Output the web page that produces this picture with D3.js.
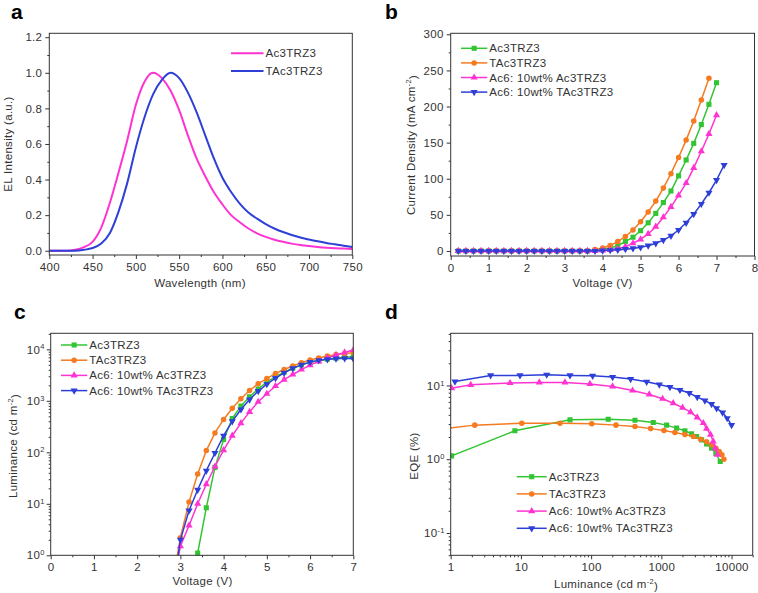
<!DOCTYPE html>
<html>
<head>
<meta charset="utf-8">
<script src="https://cdn.jsdelivr.net/npm/d3@7"></script>
<style>
body { margin: 0; background: #fff; }
svg text { font-family: "Liberation Sans", Arial, sans-serif; fill: #333; letter-spacing: 0.3px; }
</style>
</head>
<body>
<div id="chart"></div>
<script>
// ---- data ----
const seriesNames = ["Ac3TRZ3", "TAc3TRZ3", "Ac6: 10wt% Ac3TRZ3", "Ac6: 10wt% TAc3TRZ3"];

// a: EL spectra
const wavelength = [400,410,420,430,440,450,460,470,480,490,500,510,520,530,540,550,560,570,580,590,
                    600,610,620,630,640,650,660,670,680,690,700,710,720,730,740,750];
const elAc3 = [0,0,0,0.005,0.02,0.05,0.13,0.27,0.44,0.62,0.82,0.95,1.0,0.97,0.9,0.79,0.65,0.52,0.42,0.33,
               0.26,0.2,0.16,0.125,0.098,0.078,0.062,0.05,0.04,0.032,0.026,0.021,0.017,0.014,0.012,0.01];
const elTAc3 = [0,0,0,0,0.005,0.015,0.04,0.1,0.22,0.38,0.58,0.75,0.88,0.96,1.0,0.97,0.89,0.78,0.65,0.52,
                0.41,0.33,0.265,0.215,0.18,0.15,0.125,0.105,0.088,0.074,0.063,0.053,0.044,0.036,0.028,0.021];

// b: J-V
const voltB = [0.2,0.4,0.6,0.8,1.0,1.2,1.4,1.6,1.8,2.0,2.2,2.4,2.6,2.8,3.0,3.2,3.4,3.6,3.8,4.0,
               4.2,4.4,4.6,4.8,5.0,5.2,5.4,5.6,5.8,6.0,6.2,6.4,6.6,6.8,7.0,7.2];
const jAc3 = [0,0,0,0,0,0,0,0,0,0,0,0,0,0,0,0,0,0,1,2,4,7.5,13,19,28,39,52,67,83,104,126,149,175,203,233];
const jTAc3 = [0,0,0,0,0,0,0,0,0,0,0,0,0,0,0,0,0,0,2,4,7.5,13,20,29,40.5,54,69,87,107,129.5,153.5,180,209,239];
const jAc6Ac3 = [0,0,0,0,0,0,0,0,0,0,0,0,0,0,0,0,0,0,0,0.7,1.5,3,6,10.6,16,23.5,33.6,46.6,61,77,94,115,138,162,188];
const jAc6TAc3 = [0,0,0,0,0,0,0,0,0,0,0,0,0,0,0,0,0,0,0,0.5,1,1.5,2.5,3.5,5,7.3,10.6,15,21,29,39,51,65,80.6,98,119];

// c: L-V
const voltC = [2.8,3.0,3.2,3.4,3.6,3.8,4.0,4.2,4.4,4.6,4.8,5.0,5.2,5.4,5.6,5.8,6.0,6.2,6.4,6.6,6.8,7.0];
const lumAc3 = [null,null,0.17,1.1,8.4,51,177,455,790,1200,1700,2300,2950,3600,4300,5000,5600,6000,6450,6750,7000,7200];
const lumTAc3 = [0.23,2.2,10.8,38,108,238,435,720,1100,1590,2150,2700,3400,4050,4750,5500,6200,6800,7400,7900,8300,8600];
const lumAc6Ac3 = [0.2,1.5,3.8,10,24,53,110,210,370,610,960,1370,1940,2570,3250,4050,4930,5840,6800,7760,8700,9700];
const lumAc6TAc3 = [0.13,2.0,7.4,18.7,44,97,210,400,680,1060,1550,2100,2760,3500,4270,5000,5650,6150,6400,6600,6700,6600];

// d: EQE-L
const eqeLumAc3 = [1.03,8.2,50,175,421,767,1189,1650,2167,2697,3178,3742,4406,5190,5980,6900];
const eqeAc3 = [1.11,2.43,3.42,3.49,3.38,3.15,2.9,2.64,2.43,2.21,2.03,1.83,1.61,1.41,1.2,0.93];
const eqeLumTAc3 = [0.5,2.2,10.3,36,102,226,421,703,1089,1560,2167,2847,3622,4406,5190,5980,6670,7280,7780];
const eqeTAc3 = [2.45,2.9,3.08,3.08,3.02,2.9,2.78,2.6,2.45,2.3,2.16,2.03,1.87,1.72,1.57,1.41,1.27,1.15,1.0];
const eqeLumAc6Ac3 = [1.03,1.93,7.0,18.3,42.4,96,202,389,673,1042,1476,2005,2606,3245,3954,4406,5024,5483,5848,6300];
const eqeAc6Ac3 = [9.2,10.2,10.8,11.0,11.0,10.5,9.7,8.55,7.55,6.6,5.75,5.0,4.35,3.7,3.1,2.6,2.15,1.74,1.41,1.15];
const eqeLumAc6TAc3 = [1.15,3.7,9.7,23.3,50,105,202,365,617,935,1325,1840,2500,3245,4170,5190,6120,7450,8670,10000];
const eqeAc6TAc3 = [11.3,13.7,13.7,14.0,13.7,13.5,13.0,12.2,11.2,10.3,9.5,8.7,7.9,6.95,6.25,5.6,4.9,4.3,3.6,2.9];

// ---- drawing ----
const FONT = 11.5;
const colors = ["#33c433", "#f57a20", "#ff33d2", "#2d3fd6"];
const syms = ["sq", "ci", "up", "dn"];

const svg = d3.select("#chart").append("svg")
    .attr("width", 758)
    .attr("height", 593);

const zip = (xs, ys) => xs.map((v, i) => [v, ys[i]]).filter(d => d[1] != null && d[1] !== undefined);

const symPath = {
    sq: d3.symbol(d3.symbolSquare, 26)(),
    ci: d3.symbol(d3.symbolCircle, 24)(),
    up: d3.symbol(d3.symbolTriangle, 22)(),
    dn: d3.symbol(d3.symbolTriangle, 22)()
};

function marker(g, kind, cx, cy, color) {
    g.append("path")
        .attr("d", symPath[kind])
        .attr("transform", "translate(" + cx + "," + cy + ")" + (kind === "dn" ? " rotate(180)" : ""))
        .attr("fill", color);
}

function frame(box) {
    svg.append("rect")
        .attr("x", box.l).attr("y", box.t)
        .attr("width", box.r - box.l).attr("height", box.b - box.t)
        .attr("fill", "none").attr("stroke", "#333").attr("stroke-width", 1);
}

function tidy(g) {
    g.select(".domain").remove();
    g.attr("font-size", FONT).attr("font-family", null);
    g.selectAll(".tick line").attr("stroke", "#333");
    g.selectAll(".tick text").attr("fill", "#333");
}

function xAxis(box, x, major, minor, fmt) {
    const g = svg.append("g").attr("transform", "translate(0," + box.b + ")")
        .call(d3.axisBottom(x).tickValues(major).tickFormat(fmt).tickSize(4).tickSizeOuter(0).tickPadding(4));
    tidy(g);
    const m = svg.append("g").attr("transform", "translate(0," + box.b + ")")
        .call(d3.axisBottom(x).tickValues(minor).tickFormat("").tickSize(2).tickSizeOuter(0));
    tidy(m);
    return g;
}

function yAxis(box, y, major, minor, fmt, pad) {
    const g = svg.append("g").attr("transform", "translate(" + box.l + ",0)")
        .call(d3.axisLeft(y).tickValues(major).tickFormat(fmt).tickSize(4).tickSizeOuter(0).tickPadding(pad));
    tidy(g);
    const m = svg.append("g").attr("transform", "translate(" + box.l + ",0)")
        .call(d3.axisLeft(y).tickValues(minor).tickFormat("").tickSize(2).tickSizeOuter(0));
    tidy(m);
    return g;
}

function powLabels(g) {
    g.selectAll(".tick text").each(function (d) {
        const t = d3.select(this);
        const e = Math.round(Math.log10(d));
        t.text(null);
        t.append("tspan").text("10");
        t.append("tspan").attr("dy", "-0.55em").attr("font-size", 7.5).text(e);
    });
}

// parts: [text, isSup]
function richText(t, parts) {
    let wasSup = false;
    parts.forEach(p => {
        const ts = t.append("tspan").text(p[0]);
        if (p[1]) { ts.attr("dy", "-0.5em").attr("font-size", 7.5); wasSup = true; }
        else if (wasSup) { ts.attr("dy", "0.5em"); wasSup = false; }
    });
    return t;
}

function title(x, y, parts, rotate) {
    const t = svg.append("text")
        .attr("text-anchor", "middle")
        .attr("font-size", FONT)
        .attr("transform", "translate(" + x + "," + y + ")" + (rotate ? " rotate(-90)" : ""));
    richText(t, parts);
}

function clip(id, box) {
    svg.append("clipPath").attr("id", id).append("rect")
        .attr("x", box.l).attr("y", box.t)
        .attr("width", box.r - box.l).attr("height", box.b - box.t);
    return svg.append("g").attr("clip-path", "url(#" + id + ")");
}

function drawSeries(g, pts, x, y, color, sym, width, curve) {
    g.append("path").datum(pts)
        .attr("d", d3.line().x(d => x(d[0])).y(d => y(d[1])).curve(curve || d3.curveLinear))
        .attr("fill", "none").attr("stroke", color).attr("stroke-width", width);
    if (sym) pts.forEach(d => marker(g, sym, x(d[0]), y(d[1]), color));
}

function legend(x0, x1, y0, dy, width) {
    for (let i = 0; i < 4; i++) {
        const yy = y0 + i * dy;
        svg.append("line").attr("x1", x0).attr("x2", x1).attr("y1", yy).attr("y2", yy)
            .attr("stroke", colors[i]).attr("stroke-width", width);
        marker(svg, syms[i], (x0 + x1) / 2, yy, colors[i]);
        svg.append("text").attr("x", x1 + 2).attr("y", yy + 4).attr("font-size", FONT)
            .text(seriesNames[i]);
    }
}

function panelLabel(x, y, s) {
    svg.append("text").attr("x", x).attr("y", y).attr("font-size", 21)
        .attr("font-weight", "bold").style("fill", "#000").style("letter-spacing", "0").text(s);
}

// ---------- panel a ----------
{
    const box = {l: 49.3, r: 352.3, t: 33.3, b: 255};
    const x = d3.scaleLinear().domain([400, 750]).range([box.l, box.r]);
    const y = d3.scaleLinear().domain([-0.024, 1.222]).range([box.b, box.t]);
    xAxis(box, x, d3.range(400, 751, 50), d3.range(425, 750, 50), d3.format("d"));
    yAxis(box, y, [0, 0.2, 0.4, 0.6, 0.8, 1.0, 1.2], [0.1, 0.3, 0.5, 0.7, 0.9, 1.1], d3.format(".1f"), 3);
    const g = clip("clipA", box);
    drawSeries(g, zip(wavelength, elAc3), x, y, colors[2], null, 2, d3.curveMonotoneX);
    drawSeries(g, zip(wavelength, elTAc3), x, y, colors[3], null, 2, d3.curveMonotoneX);
    frame(box);
    // legend (two entries: Ac3TRZ3 magenta, TAc3TRZ3 blue)
    [["Ac3TRZ3", colors[2]], ["TAc3TRZ3", colors[3]]].forEach((e, i) => {
        const yy = 53.3 + i * 17.7;
        svg.append("line").attr("x1", 231).attr("x2", 263.5).attr("y1", yy).attr("y2", yy)
            .attr("stroke", e[1]).attr("stroke-width", 2);
        svg.append("text").attr("x", 265.5).attr("y", yy + 4).attr("font-size", FONT).text(e[0]);
    });
    title(200, 287, [["Wavelength (nm)"]]);
    title(11.5, 144, [["EL Intensity (a.u.)"]], true);
    panelLabel(11, 18.5, "a");
}

// ---------- panel b ----------
{
    const box = {l: 450.7, r: 754.5, t: 33.3, b: 256};
    const x = d3.scaleLinear().domain([0, 8]).range([box.l, box.r]);
    const y = d3.scaleLinear().domain([-7, 301.4]).range([box.b, box.t]);
    xAxis(box, x, d3.range(0, 9, 1), d3.range(0.5, 8, 1), d3.format("d"));
    yAxis(box, y, d3.range(0, 301, 50), d3.range(25, 300, 50), d3.format("d"), 3);
    const g = svg.append("g");
    [jAc3, jTAc3, jAc6Ac3, jAc6TAc3].forEach((s, i) =>
        drawSeries(g, zip(voltB, s), x, y, colors[i], syms[i], 1.5));
    frame(box);
    legend(461, 487.3, 48.3, 14.6, 1.5);
    title(602.5, 287, [["Voltage (V)"]]);
    title(415, 145, [["Current Density (mA cm"], ["-2", true], [")"]], true);
    panelLabel(385, 18.5, "b");
}

// ---------- panel c ----------
{
    const box = {l: 50.7, r: 353.3, t: 333.3, b: 555.3};
    const x = d3.scaleLinear().domain([0, 7]).range([box.l, box.r]);
    const y = d3.scaleLog().domain([1, 20500]).range([box.b, box.t]);
    xAxis(box, x, d3.range(0, 8, 1), d3.range(0.5, 7, 1), d3.format("d"));
    const minorY = y.ticks().filter(v => Math.abs(Math.log10(v) % 1) > 1e-9);
    const gy = yAxis(box, y, [1, 10, 100, 1000, 10000], minorY, d3.format("d"), 2);
    powLabels(gy);
    const g = clip("clipC", box);
    [lumAc3, lumTAc3, lumAc6Ac3, lumAc6TAc3].forEach((s, i) =>
        drawSeries(g, zip(voltC, s), x, y, colors[i], syms[i], 1.5));
    frame(box);
    legend(61, 87.3, 345, 15.2, 1.5);
    title(202.5, 585, [["Voltage (V)"]]);
    title(16.5, 446, [["Luminance (cd m"], ["-2", true], [")"]], true);
    panelLabel(14, 318.5, "c");
}

// ---------- panel d ----------
{
    const box = {l: 450.7, r: 752.7, t: 333.3, b: 555.3};
    const x = d3.scaleLog().domain([1, 20000]).range([box.l, box.r]);
    const y = d3.scaleLog().domain([0.0498, 51]).range([box.b, box.t]);
    const minorX = x.ticks().filter(v => Math.abs(Math.log10(v) % 1) > 1e-9);
    xAxis(box, x, [1, 10, 100, 1000, 10000], minorX, d3.format("d"));
    const minorY = y.ticks().filter(v => Math.abs(Math.log10(v) % 1) > 1e-9 && Math.abs(Math.log10(v) % 1) < 1 - 1e-9);
    const gy = yAxis(box, y, [0.1, 1, 10], minorY, d3.format("d"), 2);
    powLabels(gy);
    const g = clip("clipD", box);
    const lums = [eqeLumAc3, eqeLumTAc3, eqeLumAc6Ac3, eqeLumAc6TAc3];
    [eqeAc3, eqeTAc3, eqeAc6Ac3, eqeAc6TAc3].forEach((s, i) =>
        drawSeries(g, zip(lums[i], s), x, y, colors[i], syms[i], 1.5));
    frame(box);
    legend(516.7, 546.7, 476.7, 17.2, 1.5);
    title(606, 588, [["Luminance (cd m"], ["-2", true], [")"]]);
    title(418, 456, [["EQE (%)"]], true);
    panelLabel(385, 318.5, "d");
}
</script>
</body>
</html>
